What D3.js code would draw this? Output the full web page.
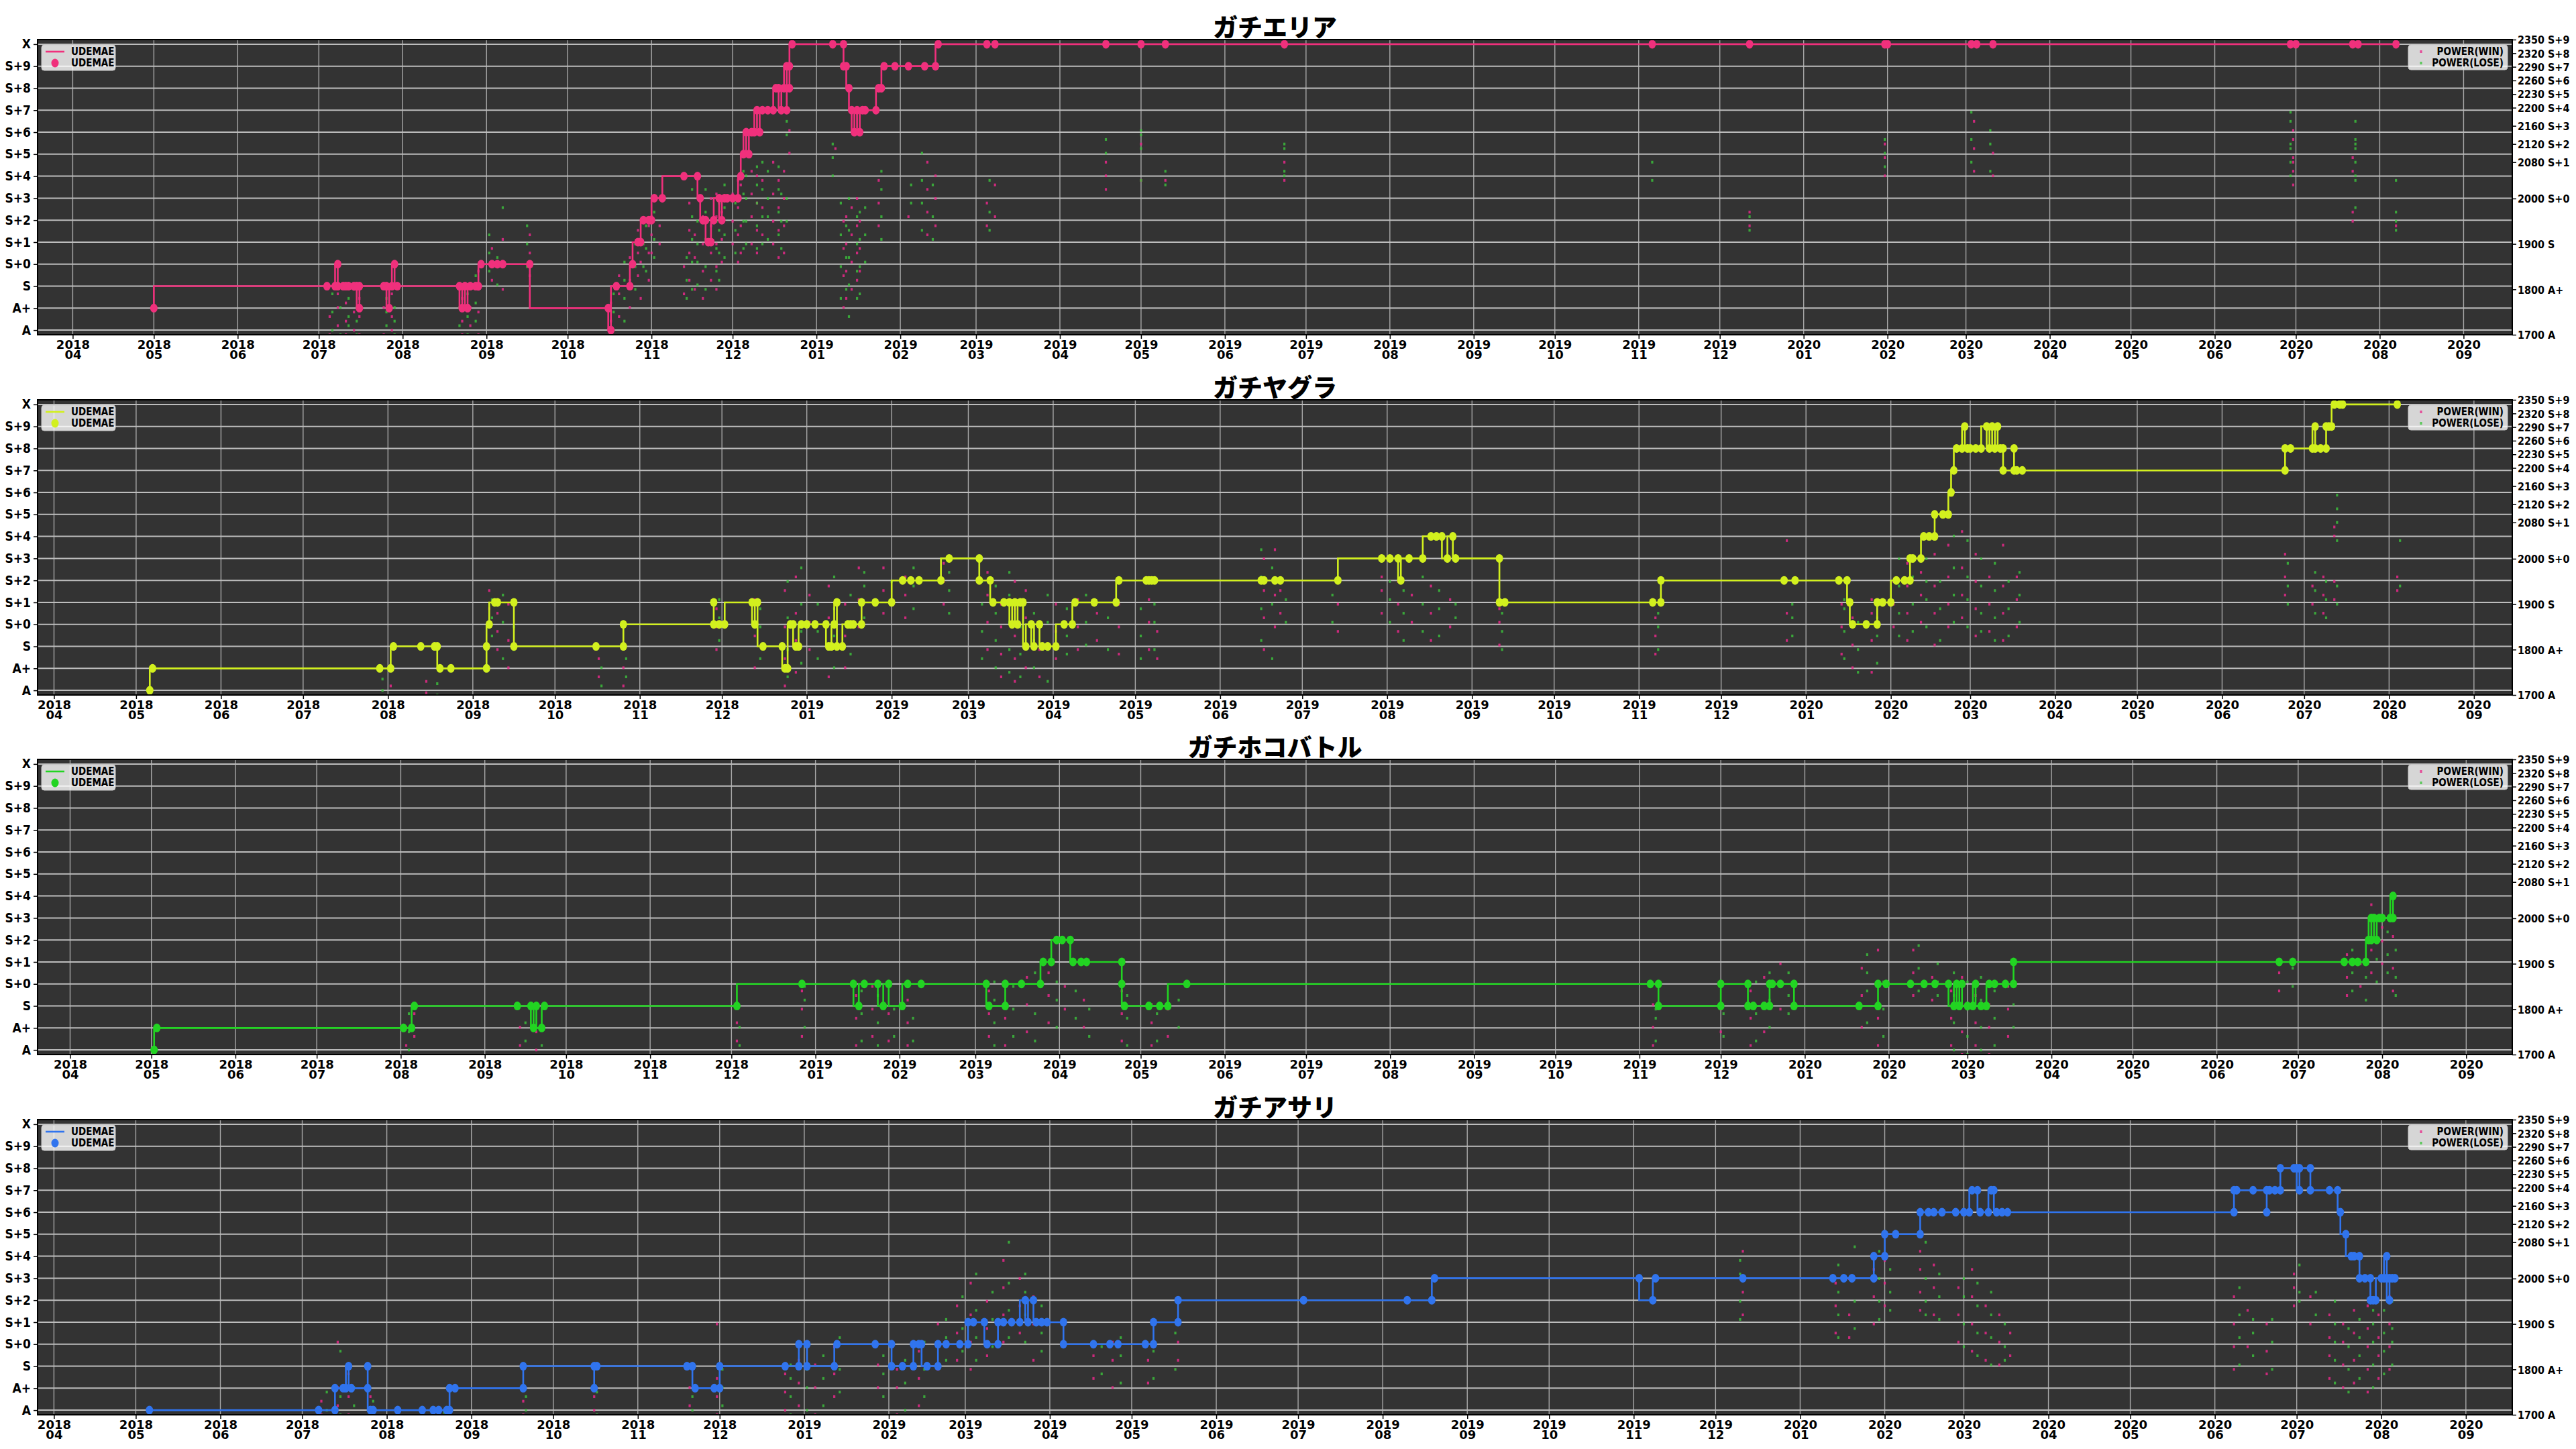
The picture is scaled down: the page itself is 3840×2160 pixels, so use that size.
<!DOCTYPE html>
<html>
<head>
<meta charset="utf-8">
<script src="https://cdn.jsdelivr.net/npm/d3@7"></script>
<style>
  body { margin: 0; background: #fff; }
  text { font-family: "DejaVu Sans", sans-serif; }
</style>
</head>
<body>
<svg id="chart" width="3840" height="2160"></svg>
<script>
// ---- data ----
var modeTitles = ["ガチエリア", "ガチヤグラ", "ガチホコバトル", "ガチアサリ"];
var rankLabels = ["A", "A+", "S", "S+0", "S+1", "S+2", "S+3", "S+4", "S+5", "S+6", "S+7", "S+8", "S+9", "X"];
var powerTicks = [1700, 1800, 1900, 2000, 2080, 2120, 2160, 2200, 2230, 2260, 2290, 2320, 2350];
var powerTickRanks = ["A", "A+", "S", "S+0", "S+1", "S+2", "S+3", "S+4", "S+5", "S+6", "S+7", "S+8", "S+9"];
var xFrom = ["2018-03-19", "2018-03-26", "2018-03-20", "2018-03-26"];
var xTo = ["2020-09-19", "2020-09-15", "2020-09-18", "2020-09-18"];

// udemae: [date, rank index]  (0 = A ... 13 = X)
var areaUdemae = [
 ["2018-05-01",1],["2018-07-04",2],["2018-07-07",2],["2018-07-08",3],["2018-07-08",2],["2018-07-10",2],
 ["2018-07-11",2],["2018-07-12",2],["2018-07-14",2],["2018-07-15",2],["2018-07-16",1],["2018-07-16",2],
 ["2018-07-25",2],["2018-07-26",2],["2018-07-27",1],["2018-07-28",2],["2018-07-29",3],["2018-07-30",2],
 ["2018-08-22",2],["2018-08-23",1],["2018-08-24",2],["2018-08-25",1],["2018-08-26",2],["2018-08-28",2],
 ["2018-08-29",2],["2018-08-30",3],["2018-09-03",3],["2018-09-05",3],["2018-09-07",3],["2018-09-17",3],
 ["2018-10-16",1],["2018-10-17",0],["2018-10-19",2],["2018-10-24",2],["2018-10-25",3],["2018-10-27",4],
 ["2018-10-28",4],["2018-10-29",5],["2018-10-31",5],["2018-11-01",5],["2018-11-02",6],["2018-11-05",6],
 ["2018-11-13",7],["2018-11-18",7],["2018-11-19",6],["2018-11-20",5],["2018-11-21",5],["2018-11-22",4],
 ["2018-11-23",4],["2018-11-24",5],["2018-11-26",6],["2018-11-27",5],["2018-11-28",6],["2018-11-29",6],
 ["2018-12-01",6],["2018-12-03",6],["2018-12-04",7],["2018-12-05",8],["2018-12-06",9],["2018-12-07",8],
 ["2018-12-08",9],["2018-12-09",9],["2018-12-10",10],["2018-12-11",9],["2018-12-12",10],["2018-12-14",10],
 ["2018-12-16",10],["2018-12-17",11],["2018-12-18",11],["2018-12-19",10],["2018-12-20",11],["2018-12-21",12],
 ["2018-12-21",10],["2018-12-22",11],["2018-12-22",12],["2018-12-23",13],["2019-01-07",13],["2019-01-11",13],
 ["2019-01-11",12],["2019-01-12",12],["2019-01-13",11],["2019-01-14",10],["2019-01-15",9],["2019-01-16",10],
 ["2019-01-17",9],["2019-01-18",10],["2019-01-19",10],["2019-01-23",10],["2019-01-24",11],["2019-01-25",11],
 ["2019-01-26",12],["2019-01-30",12],["2019-02-04",12],["2019-02-10",12],["2019-02-14",12],["2019-02-15",13],
 ["2019-03-05",13],["2019-03-08",13],["2019-04-18",13],["2019-05-01",13],["2019-05-10",13],["2019-06-23",13],
 ["2019-11-06",13],["2019-12-12",13],["2020-01-31",13],["2020-02-01",13],["2020-03-03",13],["2020-03-05",13],
 ["2020-03-11",13],["2020-06-29",13],["2020-07-01",13],["2020-07-22",13],["2020-07-24",13],["2020-08-07",13]
];
var yaguraUdemae = [
 ["2018-05-06",0],["2018-05-07",1],["2018-07-29",1],["2018-08-02",1],["2018-08-03",2],["2018-08-13",2],
 ["2018-08-18",2],["2018-08-19",2],["2018-08-20",1],["2018-08-24",1],["2018-09-06",1],["2018-09-06",2],
 ["2018-09-07",3],["2018-09-09",4],["2018-09-10",4],["2018-09-16",4],["2018-09-16",2],["2018-10-16",2],
 ["2018-10-26",2],["2018-10-26",3],["2018-11-28",3],["2018-11-28",4],["2018-11-30",3],["2018-12-02",3],
 ["2018-12-12",4],["2018-12-13",3],["2018-12-14",4],["2018-12-16",2],["2018-12-23",2],["2018-12-24",1],
 ["2018-12-25",1],["2018-12-26",3],["2018-12-27",3],["2018-12-28",2],["2018-12-29",2],["2018-12-30",3],
 ["2019-01-01",3],["2019-01-04",3],["2019-01-08",3],["2019-01-09",2],["2019-01-10",2],["2019-01-11",3],
 ["2019-01-12",4],["2019-01-12",2],["2019-01-14",2],["2019-01-16",3],["2019-01-17",3],["2019-01-18",3],
 ["2019-01-21",3],["2019-01-21",4],["2019-01-26",4],["2019-02-01",4],["2019-02-05",5],["2019-02-08",5],
 ["2019-02-11",5],["2019-02-19",5],["2019-02-22",6],["2019-03-05",6],["2019-03-05",5],["2019-03-09",5],
 ["2019-03-10",4],["2019-03-14",4],["2019-03-16",4],["2019-03-17",3],["2019-03-18",4],["2019-03-19",3],
 ["2019-03-20",4],["2019-03-21",4],["2019-03-22",2],["2019-03-24",3],["2019-03-25",2],["2019-03-27",3],
 ["2019-03-28",2],["2019-03-30",2],["2019-04-02",2],["2019-04-05",3],["2019-04-08",3],["2019-04-09",4],
 ["2019-04-16",4],["2019-04-24",4],["2019-04-25",5],["2019-05-05",5],["2019-05-06",5],["2019-05-07",5],
 ["2019-05-08",5],["2019-06-16",5],["2019-06-17",5],["2019-06-21",5],["2019-06-23",5],["2019-07-14",5],
 ["2019-07-30",6],["2019-08-02",6],["2019-08-05",6],["2019-08-06",5],["2019-08-09",6],["2019-08-14",6],
 ["2019-08-17",7],["2019-08-19",7],["2019-08-21",7],["2019-08-23",6],["2019-08-25",7],["2019-08-26",6],
 ["2019-09-11",6],["2019-09-11",4],["2019-09-13",4],["2019-11-06",4],["2019-11-09",4],["2019-11-09",5],
 ["2019-12-24",5],["2019-12-28",5],["2020-01-13",5],["2020-01-16",5],["2020-01-17",4],["2020-01-18",3],
 ["2020-01-23",3],["2020-01-27",3],["2020-01-27",4],["2020-01-29",4],["2020-02-01",4],["2020-02-03",5],
 ["2020-02-06",5],["2020-02-08",5],["2020-02-08",6],["2020-02-09",6],["2020-02-12",6],["2020-02-13",7],
 ["2020-02-15",7],["2020-02-17",7],["2020-02-17",8],["2020-02-20",8],["2020-02-22",8],["2020-02-23",9],
 ["2020-02-24",10],["2020-02-25",11],["2020-02-27",11],["2020-02-28",12],["2020-02-29",11],["2020-03-01",11],
 ["2020-03-03",11],["2020-03-05",11],["2020-03-07",12],["2020-03-08",11],["2020-03-09",12],["2020-03-10",11],
 ["2020-03-11",12],["2020-03-12",11],["2020-03-13",11],["2020-03-13",10],["2020-03-17",10],["2020-03-17",11],
 ["2020-03-18",10],["2020-03-20",10],["2020-06-24",10],["2020-06-24",11],["2020-06-26",11],["2020-07-04",11],
 ["2020-07-05",12],["2020-07-05",11],["2020-07-07",11],["2020-07-09",11],["2020-07-09",12],["2020-07-10",12],
 ["2020-07-11",12],["2020-07-12",13],["2020-07-14",13],["2020-07-15",13],["2020-08-04",13]
];
var hokoUdemae = [
 ["2018-05-02",0],["2018-05-03",1],["2018-08-02",1],["2018-08-05",1],["2018-08-06",2],["2018-09-13",2],
 ["2018-09-18",2],["2018-09-19",1],["2018-09-20",2],["2018-09-22",1],["2018-09-23",2],["2018-12-03",2],
 ["2018-12-27",3],["2019-01-15",3],["2019-01-17",2],["2019-01-19",3],["2019-01-24",3],["2019-01-26",2],
 ["2019-01-28",3],["2019-02-02",2],["2019-02-04",3],["2019-02-09",3],["2019-03-05",3],["2019-03-06",2],
 ["2019-03-12",2],["2019-03-12",3],["2019-03-18",3],["2019-03-25",3],["2019-03-26",4],["2019-03-29",4],
 ["2019-03-31",5],["2019-04-02",5],["2019-04-05",5],["2019-04-06",4],["2019-04-09",4],["2019-04-11",4],
 ["2019-04-24",4],["2019-04-24",3],["2019-04-25",2],["2019-05-04",2],["2019-05-08",2],["2019-05-11",2],
 ["2019-05-18",3],["2019-11-05",3],["2019-11-08",3],["2019-11-08",2],["2019-12-01",2],["2019-12-01",3],
 ["2019-12-11",3],["2019-12-11",2],["2019-12-13",2],["2019-12-17",2],["2019-12-19",2],["2019-12-19",3],
 ["2019-12-20",3],["2019-12-23",3],["2019-12-28",3],["2019-12-28",2],["2020-01-21",2],["2020-01-28",2],
 ["2020-01-28",3],["2020-01-31",3],["2020-02-09",3],["2020-02-14",3],["2020-02-18",3],["2020-02-23",3],
 ["2020-02-25",2],["2020-02-26",3],["2020-02-27",2],["2020-02-28",3],["2020-03-01",2],["2020-03-03",2],
 ["2020-03-04",3],["2020-03-06",2],["2020-03-08",2],["2020-03-09",3],["2020-03-11",3],["2020-03-15",3],
 ["2020-03-18",3],["2020-03-18",4],["2020-06-24",4],["2020-06-29",4],["2020-07-18",4],["2020-07-21",4],
 ["2020-07-23",4],["2020-07-26",4],["2020-07-27",5],["2020-07-28",6],["2020-07-28",5],["2020-07-29",6],
 ["2020-07-30",5],["2020-07-31",6],["2020-08-01",6],["2020-08-04",6],["2020-08-05",7],["2020-08-05",6]
];
var asariUdemae = [
 ["2018-05-06",0],["2018-07-07",0],["2018-07-13",0],["2018-07-13",1],["2018-07-16",1],["2018-07-17",1],
 ["2018-07-18",2],["2018-07-19",1],["2018-07-25",1],["2018-07-25",2],["2018-07-26",0],["2018-07-27",0],
 ["2018-08-05",0],["2018-08-14",0],["2018-08-18",0],["2018-08-20",0],["2018-08-23",0],["2018-08-24",0],
 ["2018-08-24",1],["2018-08-26",1],["2018-09-20",1],["2018-09-20",2],["2018-10-16",2],["2018-10-16",1],
 ["2018-10-17",2],["2018-11-19",2],["2018-11-21",2],["2018-11-22",1],["2018-11-29",1],["2018-12-01",1],
 ["2018-12-01",2],["2018-12-25",2],["2018-12-30",2],["2018-12-30",3],["2019-01-02",3],["2019-01-02",2],
 ["2019-01-12",2],["2019-01-13",3],["2019-01-27",3],["2019-02-02",3],["2019-02-02",2],["2019-02-06",2],
 ["2019-02-10",2],["2019-02-10",3],["2019-02-12",3],["2019-02-13",3],["2019-02-15",2],["2019-02-19",2],
 ["2019-02-19",3],["2019-02-22",3],["2019-02-27",3],["2019-03-02",3],["2019-03-02",4],["2019-03-04",4],
 ["2019-03-08",4],["2019-03-09",3],["2019-03-13",3],["2019-03-13",4],["2019-03-15",4],["2019-03-18",4],
 ["2019-03-21",4],["2019-03-23",5],["2019-03-24",4],["2019-03-26",5],["2019-03-27",4],["2019-03-29",4],
 ["2019-03-31",4],["2019-04-06",4],["2019-04-06",3],["2019-04-17",3],["2019-04-23",3],["2019-04-26",3],
 ["2019-05-06",3],["2019-05-09",3],["2019-05-09",4],["2019-05-18",4],["2019-05-18",5],["2019-07-03",5],
 ["2019-08-10",5],["2019-08-19",5],["2019-08-20",6],["2019-11-03",6],["2019-11-08",5],["2019-11-09",6],
 ["2019-12-11",6],["2020-01-13",6],["2020-01-17",6],["2020-01-20",6],["2020-01-28",6],["2020-01-28",7],
 ["2020-02-01",7],["2020-02-01",8],["2020-02-05",8],["2020-02-14",8],["2020-02-14",9],["2020-02-17",9],
 ["2020-02-19",9],["2020-02-22",9],["2020-02-27",9],["2020-03-01",9],["2020-03-03",9],["2020-03-04",10],
 ["2020-03-06",10],["2020-03-07",9],["2020-03-10",9],["2020-03-11",10],["2020-03-12",10],["2020-03-13",9],
 ["2020-03-15",9],["2020-03-17",9],["2020-06-08",9],["2020-06-08",10],["2020-06-09",10],["2020-06-15",10],
 ["2020-06-20",10],["2020-06-20",9],["2020-06-21",10],["2020-06-23",10],["2020-06-25",10],["2020-06-25",11],
 ["2020-06-30",11],["2020-07-01",11],["2020-07-02",10],["2020-07-02",11],["2020-07-06",11],["2020-07-06",10],
 ["2020-07-13",10],["2020-07-16",10],["2020-07-17",9],["2020-07-19",8],["2020-07-21",7],["2020-07-22",7],
 ["2020-07-24",7],["2020-07-24",6],["2020-07-26",6],["2020-07-28",6],["2020-07-28",5],["2020-07-29",5],
 ["2020-07-30",5],["2020-08-01",6],["2020-08-02",6],["2020-08-03",7],["2020-08-03",6],["2020-08-04",5],
 ["2020-08-04",6],["2020-08-05",6],["2020-08-06",6]
];

// power dots: [date, [powers]]
var areaWin = [
 ["2018-07-05",[1700,1740]],["2018-07-08",[1720,1760,1790]],["2018-07-11",[1700,1730,1770]],
 ["2018-07-14",[1710,1750,1800]],["2018-07-16",[1700,1740,1780]],["2018-07-25",[1700,1760]],
 ["2018-07-28",[1710,1740,1790]],["2018-08-23",[1700,1730,1780]],["2018-08-26",[1720,1760,1810]],
 ["2018-08-29",[1700,1750,1800,1840]],["2018-09-03",[1820,1860,1890]],["2018-09-07",[1800,1850,1910]],
 ["2018-09-17",[1830,1880,1920]],["2018-10-17",[1700,1730,1770]],["2018-10-20",[1740,1790,1830]],
 ["2018-10-24",[1760,1820,1870]],["2018-10-27",[1830,1880,1930]],["2018-10-28",[1780,1860,1910]],
 ["2018-10-31",[1820,1880,1940]],["2018-11-01",[1880,1920,1960]],["2018-11-04",[1900,1940]],
 ["2018-11-13",[1790,1850]],["2018-11-15",[1820,1880,1930,1990]],["2018-11-17",[1800,1870,1920]],
 ["2018-11-20",[1780,1840,1900,1960]],["2018-11-23",[1820,1880,1940,2000]],["2018-11-25",[1800,1850,1900,1960,2010]],
 ["2018-11-27",[1860,1910,1970]],["2018-12-01",[1900,1950,2010]],["2018-12-03",[1860,1920,1980,2040]],
 ["2018-12-04",[1880,1940,2030]],["2018-12-08",[1900,1960,2010,2060]],["2018-12-10",[1880,1930,1990,2050]],
 ["2018-12-12",[1920,1980,2040]],["2018-12-16",[1900,1950,2010,2080]],["2018-12-18",[1870,1930,1980,2040]],
 ["2018-12-20",[1880,1940,2000,2060]],["2018-12-22",[2100,2150]],["2019-01-08",[2110]],
 ["2019-01-11",[1760,1830,1890,1950]],["2019-01-12",[1780,1840,1900,1960]],["2019-01-14",[1800,1860,1920,1980]],
 ["2019-01-16",[1820,1880,1940,2000]],["2019-01-17",[1840,1890,1950]],["2019-01-24",[1940,1990,2040]],
 ["2019-02-04",[1960]],["2019-02-11",[1920,1970,2020,2080]],["2019-02-14",[1940,2000,2050]],
 ["2019-03-05",[1940,1990]],["2019-03-08",[1960,2030]],["2019-04-18",[2080,2050,2020]],
 ["2019-05-01",[2120,2040]],["2019-05-10",[2040]],["2019-06-23",[2080,2040]],["2019-12-12",[1940,1970]],
 ["2020-01-31",[2050,2090,2120]],["2020-03-04",[2060,2110,2170]],["2020-03-11",[2050,2100]],
 ["2020-06-30",[2150,2130,2090,2080,2060,2030]],["2020-07-22",[2090,2060,1970,1950]],["2020-08-07",[1940]]
];
var areaLose = [
 ["2018-07-06",[1710,1750,1790]],["2018-07-09",[1700,1760]],["2018-07-12",[1720,1740,1780]],
 ["2018-07-15",[1700,1730,1760]],["2018-07-26",[1720,1750,1780]],["2018-07-29",[1700,1730,1760]],
 ["2018-08-22",[1720,1760,1800]],["2018-08-25",[1700,1740,1790]],["2018-08-28",[1730,1770,1830]],
 ["2018-09-02",[1840,1880,1920]],["2018-09-05",[1810,1870]],["2018-09-07",[1980]],
 ["2018-09-16",[1850,1900,1940]],["2018-10-18",[1710,1750,1790]],["2018-10-22",[1730,1780,1820,1860]],
 ["2018-10-26",[1800,1850,1900]],["2018-10-29",[1850,1900,1950]],["2018-10-30",[1840,1890,1940]],
 ["2018-11-02",[1870,1910,1970]],["2018-11-14",[1780,1820,1870]],["2018-11-16",[1800,1860,1910,1960,2020]],
 ["2018-11-18",[1810,1860,1900,1950]],["2018-11-21",[1800,1850,1910,1970,2020]],["2018-11-25",[1840,1890,1950]],
 ["2018-11-26",[1820,1880,1930,1990]],["2018-11-28",[1870,1920,1980,2030]],["2018-12-02",[1880,1930,1990]],
 ["2018-12-05",[1890,1950,2010,2060]],["2018-12-06",[1900,1950,2000,2050]],["2018-12-10",[1890,1940,1990,2030,2070]],
 ["2018-12-12",[1900,1960,2020,2080]],["2018-12-14",[1910,1960,2000,2060]],["2018-12-18",[1920,1970,2020,2070]],
 ["2018-12-19",[1890,1950,2010]],["2018-12-21",[1950,2000,2140,2170]],["2019-01-07",[2050,2090,2120]],
 ["2019-01-10",[1780,1850,1920,1990]],["2019-01-12",[1800,1870,1940]],["2019-01-13",[1740,1810,1870,1930,2000]],
 ["2019-01-16",[1780,1840,1900,1960]],["2019-01-17",[1790,1850,1910,1970]],["2019-01-19",[1860,1920,1980]],
 ["2019-01-25",[1910,1960,2020,2060]],["2019-02-05",[1990,2030]],["2019-02-09",[1930,1990,2040,2100]],
 ["2019-02-13",[1910,1960,2030]],["2019-03-06",[1930,1970,2040]],["2019-04-18",[2130,2100]],
 ["2019-05-01",[2150,2140,2110,2040]],["2019-05-10",[2060,2030]],["2019-06-23",[2120,2110,2060,2050]],
 ["2019-11-06",[2080,2040]],["2019-12-12",[1930,1960]],["2020-01-31",[2070,2100,2130]],
 ["2020-03-03",[2080,2130,2190]],["2020-03-10",[2060,2120,2150]],["2020-06-29",[2190,2170,2120,2110,2080,2050]],
 ["2020-07-23",[2170,2130,2120,2110,2080,2050,2040,1980]],["2020-08-07",[2040,1970,1950,1930]]
];
var yaguraWin = [
 ["2018-08-02",[1720]],["2018-08-15",[1705,1730]],["2018-09-07",[1850,1890,1930]],["2018-09-10",[1800,1840,1880]],
 ["2018-09-14",[1760,1820,1900]],["2018-10-17",[1740,1780]],["2018-10-26",[1720,1760]],["2018-11-29",[1800,1850,1890]],
 ["2018-12-13",[1760,1830,1910]],["2018-12-24",[1720,1780,1850,1930]],["2018-12-28",[1750,1820,1880,1960]],
 ["2019-01-02",[1800,1860,1920]],["2019-01-09",[1740,1810,1870,1940]],["2019-01-15",[1760,1830,1900]],
 ["2019-01-20",[1850,1910,1980]],["2019-01-29",[1880,1930,1980]],["2019-02-06",[1870,1920,1960]],
 ["2019-02-20",[1900,1950,1990]],["2019-03-08",[1800,1860,1920,1970]],["2019-03-13",[1740,1790,1850,1900]],
 ["2019-03-18",[1730,1780,1830,1890,1950]],["2019-03-22",[1760,1810,1870,1930]],["2019-03-27",[1740,1800,1860]],
 ["2019-04-02",[1780,1840,1900]],["2019-04-10",[1800,1850,1910]],["2019-04-17",[1820,1880]],
 ["2019-04-25",[1790,1850,1900]],["2019-05-06",[1800,1860,1910]],["2019-05-09",[1780,1840]],
 ["2019-06-17",[1800,1870,1930,2000]],["2019-06-21",[1850,1920,2020]],["2019-06-23",[1880,1930]],
 ["2019-07-14",[1840,1900]],["2019-07-30",[1880,1930,1960]],["2019-08-05",[1840,1900,1950]],
 ["2019-08-10",[1860,1920]],["2019-08-17",[1820,1880,1940]],["2019-08-24",[1850,1910]],
 ["2019-09-11",[1810,1860,1890]],["2019-11-07",[1790,1830,1870]],["2019-12-25",[1820,1880,2040]],
 ["2020-01-14",[1790,1850,1900]],["2020-01-18",[1760,1810,1870]],["2020-01-25",[1750,1820,1880,1910]],
 ["2020-02-02",[1850,1900,1950]],["2020-02-07",[1820,1880,1940,1990]],["2020-02-12",[1860,1920,1970]],
 ["2020-02-17",[1810,1880,1940,2010]],["2020-02-22",[1850,1900,1960,2030]],["2020-02-27",[1870,1920,1980,2060]],
 ["2020-03-03",[1830,1890,1950,2010]],["2020-03-08",[1840,1900,1960]],["2020-03-13",[1820,1880,1940,2030]],
 ["2020-03-18",[1850,1910,1960]],["2020-06-24",[1920,1960,2010]],["2020-07-04",[1900,1940]],
 ["2020-07-08",[1880,1920,1960]],["2020-07-12",[1910,1950,2050,2070]],["2020-08-04",[1930,1960]]
];
var yaguraLose = [
 ["2018-07-30",[1710,1735]],["2018-08-19",[1700,1725]],["2018-09-08",[1830,1870,1910]],["2018-09-12",[1780,1860,1920]],
 ["2018-09-16",[1800,1850]],["2018-10-18",[1720,1760]],["2018-10-27",[1740,1780]],["2018-11-30",[1820,1870,1910]],
 ["2018-12-15",[1780,1850,1890]],["2018-12-25",[1740,1800,1870,1950]],["2018-12-30",[1770,1840,1900,1980]],
 ["2019-01-05",[1780,1840,1900]],["2019-01-11",[1760,1830,1890,1960]],["2019-01-17",[1790,1850,1920]],
 ["2019-01-22",[1870,1940,1970]],["2019-02-01",[1900,1950]],["2019-02-09",[1890,1940,1980]],
 ["2019-02-22",[1880,1930,1970]],["2019-03-06",[1780,1840,1900,1950]],["2019-03-11",[1760,1820,1880,1940]],
 ["2019-03-16",[1750,1800,1860,1920,1970]],["2019-03-20",[1740,1790,1850,1910]],["2019-03-25",[1760,1820,1880]],
 ["2019-03-30",[1730,1800,1860,1920]],["2019-04-06",[1790,1830,1890]],["2019-04-13",[1810,1860,1920]],
 ["2019-04-21",[1800,1870]],["2019-05-03",[1780,1830,1890]],["2019-05-08",[1800,1860,1900]],
 ["2019-06-16",[1820,1890,1960,2020]],["2019-06-20",[1780,1900,1980]],["2019-06-25",[1860,1910]],
 ["2019-07-12",[1860,1920]],["2019-08-02",[1860,1910,1950]],["2019-08-07",[1820,1880,1930]],
 ["2019-08-14",[1840,1900,1960]],["2019-08-20",[1830,1890,1930]],["2019-08-26",[1870,1900]],
 ["2019-09-12",[1800,1840,1880]],["2019-11-08",[1800,1850,1880]],["2019-12-27",[1830,1870,1900]],
 ["2020-01-15",[1780,1840,1890,1910]],["2020-01-20",[1750,1800,1860]],["2020-01-27",[1770,1830,1870,1900]],
 ["2020-02-04",[1830,1880,1940,2000]],["2020-02-09",[1840,1900,1960]],["2020-02-14",[1850,1910,1950,2000]],
 ["2020-02-19",[1820,1890,1950]],["2020-02-24",[1860,1920,1980,2050]],["2020-02-29",[1850,1910,1960,2040]],
 ["2020-03-05",[1840,1880,1940,2000]],["2020-03-10",[1820,1870,1930,1990]],["2020-03-15",[1830,1890,1950]],
 ["2020-03-19",[1860,1920,1970]],["2020-06-25",[1900,1940,1990]],["2020-07-05",[1880,1930,1970]],
 ["2020-07-09",[1870,1910,1950]],["2020-07-13",[1900,1940,2040,2080,2110,2140]],["2020-08-05",[1940,2040]]
];
var hokoWin = [
 ["2018-05-02",[1705]],["2018-08-03",[1720,1760]],["2018-08-06",[1740,1790]],["2018-09-14",[1720,1760]],
 ["2018-09-20",[1710,1750]],["2018-12-03",[1730,1770]],["2018-12-27",[1740,1800,1840]],["2019-01-16",[1720,1780,1830]],
 ["2019-01-22",[1740,1800,1850]],["2019-01-28",[1730,1790]],["2019-02-04",[1720,1770,1820]],
 ["2019-03-06",[1740,1790,1840]],["2019-03-12",[1720,1780,1860]],["2019-03-20",[1750,1810,1870]],
 ["2019-03-28",[1770,1830,1880]],["2019-04-03",[1800,1850]],["2019-04-10",[1760,1820]],
 ["2019-04-24",[1730,1790,1840]],["2019-05-05",[1720,1770,1810]],["2019-05-11",[1740,1800]],
 ["2019-11-06",[1720,1760,1810]],["2019-12-01",[1750,1800]],["2019-12-12",[1720,1780,1840]],
 ["2019-12-17",[1750,1810,1870]],["2019-12-23",[1800,1850,1900]],["2020-01-22",[1760,1830,1890]],
 ["2020-01-28",[1720,1780,1850,1930]],["2020-02-10",[1830,1880,1930]],["2020-02-17",[1820,1870]],
 ["2020-02-24",[1720,1780,1840]],["2020-02-28",[1700,1750,1810,1870]],["2020-03-04",[1720,1770,1830]],
 ["2020-03-09",[1700,1760,1810,1860]],["2020-03-16",[1740,1800,1850]],["2020-06-24",[1840,1880]],
 ["2020-07-19",[1830,1870,1920]],["2020-07-24",[1850,1900]],["2020-07-28",[1880,1930,2030]],
 ["2020-08-01",[1900,1950,1980]],["2020-08-05",[1840,1890,1960]]
];
var hokoLose = [
 ["2018-05-03",[1710]],["2018-08-04",[1710,1750,1790]],["2018-09-16",[1730,1770]],["2018-09-22",[1720,1760]],
 ["2018-12-04",[1720,1760]],["2018-12-28",[1760,1820,1850]],["2019-01-18",[1730,1790,1840]],
 ["2019-01-24",[1720,1770,1830]],["2019-01-30",[1740,1800]],["2019-02-06",[1730,1780]],
 ["2019-03-08",[1720,1770,1820,1860]],["2019-03-15",[1740,1800,1850]],["2019-03-23",[1730,1790,1880]],
 ["2019-03-31",[1760,1820,1860]],["2019-04-07",[1780,1840]],["2019-04-12",[1740,1800]],
 ["2019-04-26",[1720,1780,1830]],["2019-05-07",[1730,1790]],["2019-05-15",[1760,1820]],
 ["2019-11-07",[1730,1780,1800]],["2019-12-02",[1740,1790]],["2019-12-14",[1730,1790,1860]],
 ["2019-12-19",[1760,1820,1880]],["2019-12-26",[1790,1830,1880]],["2020-01-24",[1770,1840,1880,1920]],
 ["2020-01-30",[1740,1800,1860]],["2020-02-12",[1840,1890,1940]],["2020-02-19",[1830,1860,1900]],
 ["2020-02-25",[1710,1770,1830,1880]],["2020-03-01",[1700,1740,1800,1860]],["2020-03-06",[1710,1760,1820,1870]],
 ["2020-03-11",[1720,1780,1840]],["2020-03-18",[1760,1810,1860]],["2020-06-29",[1850,1890]],
 ["2020-07-21",[1840,1880,1930]],["2020-07-26",[1820,1870,1910]],["2020-07-30",[1860,1910,1950]],
 ["2020-08-03",[1880,1920,1970]],["2020-08-06",[1830,1870,1930]]
];
var asariWin = [
 ["2018-07-08",[1700,1730]],["2018-07-14",[1720,1760,1860]],["2018-07-18",[1700,1740,1790]],
 ["2018-07-26",[1700,1740]],["2018-08-20",[1700,1710]],["2018-09-20",[1700,1730]],["2018-10-16",[1710,1740]],
 ["2018-11-20",[1720,1760]],["2018-11-30",[1700,1740,1780,1900]],["2018-12-25",[1710,1750,1790]],
 ["2018-12-30",[1720,1770,1820]],["2019-01-05",[1700,1760,1810]],["2019-01-12",[1740,1790,1850]],
 ["2019-01-28",[1760,1810]],["2019-02-04",[1700,1760,1800]],["2019-02-12",[1720,1780,1840]],
 ["2019-02-19",[1800,1860,1900]],["2019-02-26",[1820,1880,1940]],["2019-03-03",[1800,1860,1920,1990]],
 ["2019-03-09",[1830,1890,1950]],["2019-03-15",[1860,1920,1980,2040]],["2019-03-21",[1880,1940,2000]],
 ["2019-03-26",[1820,1900,1960]],["2019-04-17",[1780,1830]],["2019-04-24",[1760,1820,1860]],
 ["2019-05-07",[1770,1820]],["2019-05-18",[1820,1860]],["2019-12-11",[1920,1970,2060]],
 ["2020-01-14",[1880,1940,1990]],["2020-01-19",[1870,1920,2000]],["2020-01-28",[1900,1960,2020]],
 ["2020-02-01",[1940,1990,2040]],["2020-02-14",[1930,1970,2020,2060]],["2020-02-19",[1920,1980,2030]],
 ["2020-02-28",[1860,1920,1980]],["2020-03-04",[1840,1900,1960,2020]],["2020-03-09",[1820,1880,1940]],
 ["2020-03-14",[1810,1860,1920]],["2020-03-18",[1830,1880]],["2020-06-08",[1800,1850,1900,1960]],
 ["2020-06-13",[1850,1930]],["2020-06-20",[1790,1840,1900]],["2020-06-30",[1940,1980,2010]],
 ["2020-07-06",[1900,1960]],["2020-07-13",[1780,1830,1870,1920]],["2020-07-18",[1760,1810,1860,1900]],
 ["2020-07-22",[1770,1820,1880,1930]],["2020-07-27",[1750,1800,1850,1890,1940]],["2020-07-31",[1780,1830,1870,1920]],
 ["2020-08-04",[1800,1850,1900,1960]]
];
var asariLose = [
 ["2018-07-10",[1710,1750]],["2018-07-15",[1700,1740,1840]],["2018-07-20",[1720,1760]],["2018-07-27",[1710,1730]],
 ["2018-08-22",[1705]],["2018-09-21",[1710,1740]],["2018-10-17",[1700,1750]],["2018-11-21",[1710,1740]],
 ["2018-12-02",[1720,1760,1800]],["2018-12-27",[1700,1740,1780,1810]],["2019-01-02",[1710,1760,1800]],
 ["2019-01-08",[1720,1780,1830]],["2019-01-14",[1750,1800,1870]],["2019-01-30",[1740,1790,1830]],
 ["2019-02-07",[1710,1770,1820]],["2019-02-14",[1740,1800,1860]],["2019-02-22",[1820,1870,1910]],
 ["2019-02-28",[1840,1890,1960]],["2019-03-05",[1820,1870,1930,2010]],["2019-03-11",[1850,1910,1970]],
 ["2019-03-17",[1870,1930,1990,2080]],["2019-03-23",[1860,1920,1970,2010]],["2019-03-29",[1840,1880,1940]],
 ["2019-04-20",[1790,1850]],["2019-04-27",[1770,1830,1870]],["2019-05-09",[1780,1840]],["2019-05-17",[1800,1880]],
 ["2019-12-10",[1910,1950,2010,2040]],["2020-01-15",[1870,1920,1970,2030]],["2020-01-21",[1890,1950,2070]],
 ["2020-01-30",[1910,1950,2000,2060]],["2020-02-03",[1930,1970,2020]],["2020-02-16",[1920,1950,2000,2080]],
 ["2020-02-21",[1910,1960,2010]],["2020-03-01",[1850,1900,1960,2000]],["2020-03-06",[1830,1880,1940,1990]],
 ["2020-03-11",[1810,1870,1920,1970]],["2020-03-16",[1820,1850,1900]],["2020-06-10",[1810,1870,1920,1980]],
 ["2020-06-15",[1830,1880,1910]],["2020-06-22",[1800,1860,1910]],["2020-07-02",[1950,1970,2030]],
 ["2020-07-08",[1920,1970]],["2020-07-15",[1770,1820,1860,1900,1950]],["2020-07-20",[1750,1800,1850,1890]],
 ["2020-07-24",[1780,1830,1870,1910]],["2020-07-29",[1760,1810,1860,1900,1930]],["2020-08-02",[1790,1840,1880,1930]],
 ["2020-08-05",[1810,1860,1890,1950]]
];

// ---- layout ----
var svg = d3.select("#chart"),
    plotLeft = 56,
    plotW = 3745 - 56,
    plotH = 440,
    panelTops = [59, 596, 1132, 1669];

var parseDay = d3.timeParse("%Y-%m-%d");
var winColor = "#e8288a", loseColor = "#3cc43c";
var condensed = "'DejaVu Sans Condensed', 'DejaVu Sans', sans-serif";

var panels = [
  {title: modeTitles[0], color: "#f0307c", steps: areaUdemae, win: areaWin, lose: areaLose},
  {title: modeTitles[1], color: "#d2f01e", steps: yaguraUdemae, win: yaguraWin, lose: yaguraLose},
  {title: modeTitles[2], color: "#22d422", steps: hokoUdemae, win: hokoWin, lose: hokoLose},
  {title: modeTitles[3], color: "#3074ee", steps: asariUdemae, win: asariWin, lose: asariLose}
];

function flatDots(list) {
  var out = [];
  list.forEach(function(c) {
    c[1].forEach(function(v) { out.push({date: parseDay(c[0]), power: v}); });
  });
  return out;
}

panels.forEach(function(p, i) {
  var top = panelTops[i];
  var from = parseDay(xFrom[i]), to = parseDay(xTo[i]);

  var x = d3.scaleTime().domain([from, to]).range([0, plotW]);
  var y = d3.scaleLinear().domain([-0.21, 13.21]).range([plotH, 0]);
  var y2 = d3.scaleLinear().domain([1700, 2350]).range([plotH, 0]);

  // title
  svg.append("text")
      .attr("x", plotLeft + plotW / 2)
      .attr("y", top - 4)
      .attr("text-anchor", "middle")
      .style("font-family", "'Noto Sans CJK JP', sans-serif")
      .style("font-weight", 900)
      .style("font-size", "37px")
      .text(p.title);

  var g = svg.append("g").attr("transform", "translate(" + plotLeft + "," + top + ")");

  g.append("rect")
      .attr("width", plotW)
      .attr("height", plotH)
      .attr("fill", "#333333");

  var months = d3.timeMonth.range(d3.timeMonth.ceil(from), to);

  // grid
  g.selectAll(".vgrid")
    .data(months)
    .enter().append("line")
      .attr("x1", function(d) { return x(d); })
      .attr("x2", function(d) { return x(d); })
      .attr("y1", 0).attr("y2", plotH)
      .attr("stroke", "#a8a8a8")
      .attr("stroke-width", 1.4);

  g.selectAll(".hgrid")
    .data(d3.range(rankLabels.length))
    .enter().append("line")
      .attr("x1", 0).attr("x2", plotW)
      .attr("y1", function(d) { return y(d); })
      .attr("y2", function(d) { return y(d); })
      .attr("stroke", "#bdbdbd")
      .attr("stroke-width", 2);

  // clip
  var clipId = "clip" + i;
  g.append("clipPath").attr("id", clipId)
    .append("rect").attr("width", plotW).attr("height", plotH);
  var inner = g.append("g").attr("clip-path", "url(#" + clipId + ")");

  // power dots
  var winDots = flatDots(p.win), loseDots = flatDots(p.lose);
  inner.selectAll(".win")
    .data(winDots)
    .enter().append("rect")
      .attr("x", function(d) { return x(d.date) - 1.6; })
      .attr("y", function(d) { return y2(d.power) - 2; })
      .attr("width", 3.2).attr("height", 4)
      .attr("fill", winColor)
      .attr("fill-opacity", 0.85);
  inner.selectAll(".lose")
    .data(loseDots)
    .enter().append("rect")
      .attr("x", function(d) { return x(d.date) - 1.6; })
      .attr("y", function(d) { return y2(d.power) - 2; })
      .attr("width", 3.2).attr("height", 4)
      .attr("fill", loseColor)
      .attr("fill-opacity", 0.8);

  // udemae step line + markers
  var steps = p.steps.map(function(s) { return {date: parseDay(s[0]), rank: s[1]}; });
  var line = d3.line()
      .curve(d3.curveStepBefore)
      .x(function(d) { return x(d.date); })
      .y(function(d) { return y(d.rank); });

  inner.append("path")
      .datum(steps)
      .attr("d", line)
      .attr("fill", "none")
      .attr("stroke", p.color)
      .attr("stroke-width", 2.6);

  inner.selectAll(".mark")
    .data(steps)
    .enter().append("ellipse")
      .attr("cx", function(d) { return x(d.date); })
      .attr("cy", function(d) { return y(d.rank); })
      .attr("rx", 5.5).attr("ry", 6.5)
      .attr("fill", p.color);

  // spine
  g.append("rect")
      .attr("width", plotW)
      .attr("height", plotH)
      .attr("fill", "none")
      .attr("stroke", "#000")
      .attr("stroke-width", 2);

  // left axis
  var yAxis = g.append("g")
      .call(d3.axisLeft(y)
        .tickValues(d3.range(rankLabels.length))
        .tickFormat(function(d) { return rankLabels[d]; })
        .tickSize(6).tickPadding(4));
  yAxis.select(".domain").remove();
  yAxis.selectAll("line").attr("stroke", "#000").attr("stroke-width", 1.5);
  yAxis.selectAll("text")
      .style("font-family", condensed)
      .style("font-stretch", "condensed")
      .style("font-weight", "bold")
      .style("font-size", "19px")
      .attr("fill", "#000");

  // right axis
  var yAxisR = g.append("g")
      .attr("transform", "translate(" + plotW + ",0)")
      .call(d3.axisRight(y2)
        .tickValues(powerTicks)
        .tickFormat("")
        .tickSize(6));
  yAxisR.select(".domain").remove();
  yAxisR.selectAll("line").attr("stroke", "#000").attr("stroke-width", 1.5);
  yAxisR.selectAll(".tick").each(function(d) {
    var t = d3.select(this).append("text")
        .attr("y", 0)
        .attr("dy", "0.36em")
        .attr("fill", "#000")
        .style("font-family", condensed)
        .style("font-stretch", "condensed")
        .style("font-weight", "bold")
        .style("font-size", "16px");
    t.append("tspan").attr("x", 8).text(d);
    t.append("tspan").attr("x", 53).text(powerTickRanks[powerTicks.indexOf(d)]);
  });

  // bottom axis with two-line labels
  var xAxis = g.append("g")
      .attr("transform", "translate(0," + plotH + ")")
      .call(d3.axisBottom(x).tickValues(months).tickFormat("").tickSize(6));
  xAxis.select(".domain").remove();
  xAxis.selectAll("line").attr("stroke", "#000").attr("stroke-width", 1.5);
  xAxis.selectAll(".tick").each(function(d) {
    var t = d3.select(this).append("text")
        .attr("text-anchor", "middle")
        .attr("fill", "#000")
        .style("font-family", "'DejaVu Sans', sans-serif")
        .style("font-weight", "bold")
        .style("font-size", "18px");
    t.append("tspan").attr("x", 0).attr("y", 21).text(d3.timeFormat("%Y")(d));
    t.append("tspan").attr("x", 0).attr("y", 36).text(d3.timeFormat("%m")(d));
  });

  // legend: udemae (upper left)
  var lg = g.append("g").attr("transform", "translate(6,8)");
  lg.append("rect")
      .attr("width", 110).attr("height", 38)
      .attr("rx", 4)
      .attr("fill", "#fff").attr("fill-opacity", 0.8)
      .attr("stroke", "#cccccc");
  lg.append("line")
      .attr("x1", 6).attr("x2", 34).attr("y1", 10).attr("y2", 10)
      .attr("stroke", p.color).attr("stroke-width", 2.6);
  lg.append("ellipse").attr("cx", 20).attr("cy", 27).attr("rx", 5.5).attr("ry", 6.5).attr("fill", p.color);
  ["UDEMAE", "UDEMAE"].forEach(function(s, k) {
    lg.append("text")
        .attr("x", 44).attr("y", 10 + k * 17)
        .attr("dy", "0.36em")
        .style("font-family", condensed)
        .style("font-stretch", "condensed")
        .style("font-weight", "bold")
        .style("font-size", "15px")
        .text(s);
  });

  // legend: power (upper right)
  var rg = g.append("g").attr("transform", "translate(" + (plotW - 155) + ",8)");
  rg.append("rect")
      .attr("width", 148).attr("height", 37)
      .attr("rx", 4)
      .attr("fill", "#fff").attr("fill-opacity", 0.8)
      .attr("stroke", "#cccccc");
  [["POWER(WIN)", winColor], ["POWER(LOSE)", loseColor]].forEach(function(s, k) {
    rg.append("rect").attr("x", 17.4).attr("y", 8 + k * 17).attr("width", 3.2).attr("height", 4)
        .attr("fill", s[1]).attr("fill-opacity", 0.8);
    rg.append("text")
        .attr("x", 142).attr("y", 10 + k * 17)
        .attr("dy", "0.36em")
        .attr("text-anchor", "end")
        .style("font-family", condensed)
        .style("font-stretch", "condensed")
        .style("font-weight", "bold")
        .style("font-size", "15px")
        .text(s[0]);
  });
});
</script>
</body>
</html>
